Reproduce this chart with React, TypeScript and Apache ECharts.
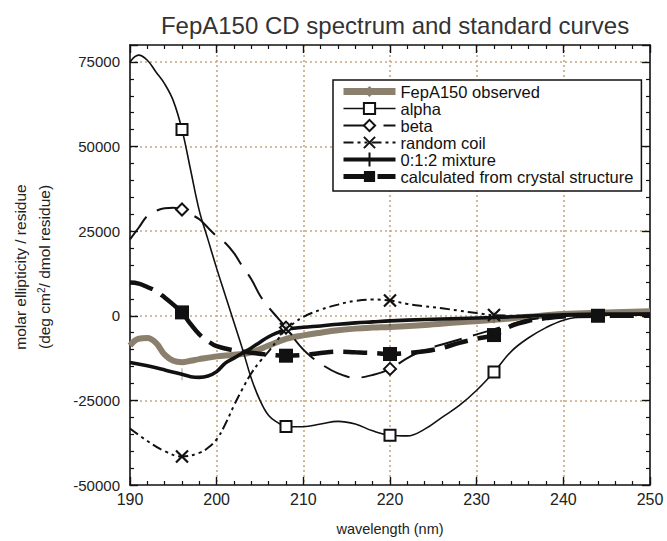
import React, { useEffect, useRef } from 'react';
import * as echarts from 'echarts';

const titleText = 'FepA150 CD spectrum and standard curves';
const xName = 'wavelength (nm)';
const yName1 = 'molar ellipticity / residue';
const yName2 = '(deg cm{s|2}/ dmol residue)';

const names = [
  'FepA150 observed',
  'alpha',
  'beta',
  'random coil',
  '0:1:2 mixture',
  'calculated from crystal structure',
];

const observed = [
  [190, -8800], [191, -6800], [192, -6600], [193, -8000], [194, -11500], [195, -13300],
  [196, -13700], [197, -13300], [198, -12800], [200, -12000], [202, -11500], [204, -10800],
  [206, -8800], [208, -6800], [210, -5800], [212, -5000], [214, -4300], [216, -3800],
  [218, -3500], [220, -3300], [224, -2700], [228, -1900], [232, -1200], [236, -300],
  [240, 500], [244, 900], [250, 1300],
];

const alpha = [
  [190, 75000], [191, 77000], [192, 75500], [193, 72000], [194, 68500], [195, 63500],
  [196, 55000], [197, 43000], [198, 31000], [199, 22500], [200, 14000], [201, 6000],
  [202, -2000], [203, -10000], [204, -18500], [205, -25000], [206, -29500], [207, -31500],
  [208, -32700], [210, -32800], [212, -32000], [214, -31200], [216, -32000], [218, -34000],
  [220, -35300], [222, -35500], [224, -33500], [226, -30000], [228, -26500], [230, -22000],
  [232, -16600], [234, -10500], [236, -6500], [238, -3500], [240, -1300], [242, -300],
  [244, 200], [247, 500], [250, 700],
];

const beta = [
  [190, 22600], [191, 26000], [192, 29500], [193, 31000], [194, 31800], [195, 31900],
  [196, 31400], [197, 30000], [198, 28500], [199, 26000], [200, 23500], [201, 21500],
  [202, 18500], [203, 14500], [204, 10800], [205, 6000], [206, 2500], [207, -500],
  [208, -3500], [209, -7000], [210, -10000], [211, -12300], [212, -14200], [214, -17000],
  [216, -18300], [218, -17500], [220, -15700], [222, -12500], [224, -10000], [226, -8500],
  [228, -7000], [230, -5500], [232, -4000], [234, -2500], [236, -1200], [238, -500],
  [240, 0], [245, 300], [250, 500],
];

const randomCoil = [
  [190, -33300], [192, -37000], [194, -40000], [196, -41600], [198, -40500], [199, -39000],
  [200, -36500], [201, -32000], [202, -26500], [203, -21500], [204, -17000], [205, -13500],
  [206, -10500], [207, -7200], [208, -3900], [209, -2000], [210, -300], [212, 1800],
  [214, 3300], [216, 4400], [218, 4800], [220, 4500], [222, 3500], [224, 2800],
  [226, 2200], [228, 1500], [230, 800], [232, 200], [236, 0], [240, 0], [245, 300], [250, 500],
];

const mixture = [
  [190, -13800], [192, -14800], [194, -16000], [196, -17300], [197, -18000], [198, -18200],
  [199, -17800], [200, -16500], [201, -14000], [202, -12500], [203, -11000], [204, -9500],
  [205, -7800], [206, -6200], [207, -5000], [208, -4000], [210, -3400], [212, -3000],
  [214, -2500], [216, -2100], [218, -1800], [220, -1500], [224, -1100], [228, -800],
  [232, -500], [236, -100], [240, 300], [245, 500], [250, 500],
];

const calculated = [
  [190, 9800], [191, 9500], [192, 8500], [193, 7300], [194, 5400], [195, 3300],
  [196, 1000], [197, -2500], [198, -5500], [199, -7500], [200, -9000], [202, -10200],
  [204, -10900], [206, -11500], [208, -11800], [210, -11600], [212, -11000], [214, -10600],
  [216, -10800], [218, -11000], [220, -11300], [222, -11000], [224, -10500], [226, -9500],
  [228, -8000], [230, -6800], [232, -5700], [234, -3000], [236, -1500], [238, -700],
  [240, -200], [244, 0], [247, 0], [250, 0],
];

const alphaMarks = [196, 208, 220, 232];
const betaMarks = [196, 208, 220];
const coilMarks = [196, 208, 220, 232];
const mixtureMarks = [196, 208, 220, 232];
const calcMarks = [196, 208, 220, 232, 244];

const FONT = 'Liberation Sans, Arial, Helvetica, sans-serif';

function toData(points: number[][], marks: number[]) {
  return points.map(([x, y]) =>
    marks.includes(x) ? [x, y] : { value: [x, y], symbol: 'none' }
  );
}

export default function App() {
  const ref = useRef<HTMLDivElement>(null);
  useEffect(() => {
    document.body.style.margin = '0';
    if (!ref.current) return;
    const chart = echarts.init(ref.current, undefined, { renderer: 'svg' });
    const gridLine = { show: true, showMinLine: false, showMaxLine: false, lineStyle: { color: '#c9a77f', type: [2, 3], width: 1.6 } };
    const axisLine = { show: true, onZero: false, lineStyle: { color: '#111', width: 1.6 } };
    const tick = { show: true, inside: true, length: 8, lineStyle: { color: '#111', width: 1.4 } };
    const minor = { show: true, splitNumber: 5, length: 4, lineStyle: { color: '#111', width: 1.2 } };
    const nameStyle = { fontSize: 15.5, fill: '#222', fontFamily: FONT, align: 'center', verticalAlign: 'middle', textAlign: 'center', textVerticalAlign: 'middle' };
    chart.setOption({
      animation: false,
      backgroundColor: '#fff',
      textStyle: { fontFamily: FONT },
      title: {
        text: titleText,
        left: 390,
        textAlign: 'center',
        top: 8,
        textStyle: { fontSize: 24, fontWeight: 'normal', color: '#333', fontFamily: FONT },
      },
      grid: { left: 130, top: 45, width: 520, height: 442, containLabel: false },
      legend: {
        orient: 'vertical',
        left: 333,
        top: 80,
        itemWidth: 52,
        itemHeight: 14,
        itemGap: 0,
        padding: [3, 8, 6, 7],
        borderColor: '#111',
        borderWidth: 1.5,
        backgroundColor: '#fff',
        textStyle: { fontSize: 16.5, color: '#111', fontFamily: FONT },
        data: [
          { name: names[0], lineStyle: { width: 7 } },
          { name: names[1], lineStyle: { width: 1.6 } },
          { name: names[2], lineStyle: { width: 2 } },
          { name: names[3], lineStyle: { width: 2 } },
          { name: names[4], icon: 'path://M0 5H52V9H0Z M25 0H27V14H25Z' },
          { name: names[5], lineStyle: { width: 5 } },
        ],
      },
      xAxis: [
        {
          type: 'value', min: 190, max: 250, interval: 10, position: 'bottom',
          axisLine, axisTick: tick, minorTick: minor,
          axisLabel: { fontSize: 16, color: '#222', margin: 6, fontFamily: FONT },
          splitLine: gridLine,
          name: xName, nameLocation: 'middle', nameGap: 36,
          nameTextStyle: { fontSize: 14.5, color: '#222', fontFamily: FONT },
        },
        {
          type: 'value', min: 190, max: 250, interval: 10, position: 'top',
          axisLine, axisTick: tick, minorTick: minor,
          axisLabel: { show: false }, splitLine: { show: false },
        },
      ],
      yAxis: [
        {
          type: 'value', min: -50000, max: 80000, interval: 25000, position: 'left',
          axisLine, axisTick: tick, minorTick: minor,
          axisLabel: {
            fontSize: 15, color: '#222', margin: 10, fontFamily: FONT,
            formatter: (v: number) => (v > 75000 ? '' : String(v)),
          },
          splitLine: gridLine,
        },
        {
          type: 'value', min: -50000, max: 80000, interval: 25000, position: 'right',
          axisLine, axisTick: tick, minorTick: minor,
          axisLabel: { show: false }, splitLine: { show: false },
        },
      ],
      graphic: [
        {
          type: 'text', x: 20, y: 267, rotation: Math.PI / 2,
          style: { text: yName1, ...nameStyle },
        },
        {
          type: 'text', x: 44, y: 267, rotation: Math.PI / 2,
          style: {
            text: yName2, ...nameStyle,
            rich: { s: { fontSize: 10, verticalAlign: 'top', fill: '#222', fontFamily: FONT } },
          },
        },
      ],
      series: [
        {
          name: names[0], type: 'line', smooth: 0.4, data: observed,
          symbol: 'diamond', showSymbol: false, symbolSize: 10,
          lineStyle: { color: '#8b806d', width: 6 }, itemStyle: { color: '#8b806d' },
        },
        {
          name: names[1], type: 'line', smooth: 0.4, data: toData(alpha, alphaMarks),
          symbol: 'emptyRect', symbolSize: 11,
          lineStyle: { color: '#111', width: 1.6 }, itemStyle: { color: '#111', borderWidth: 1.6 },
        },
        {
          name: names[2], type: 'line', smooth: 0.4, data: toData(beta, betaMarks),
          symbol: 'emptyDiamond', symbolSize: 12,
          lineStyle: { color: '#111', width: 2, type: [28, 12] }, itemStyle: { color: '#111', borderWidth: 1.6 },
        },
        {
          name: names[3], type: 'line', smooth: 0.4, data: toData(randomCoil, coilMarks),
          symbol: 'path://M0 0L10 10M10 0L0 10', symbolSize: 12,
          lineStyle: { color: '#111', width: 2, type: [10, 4, 3, 4, 3, 4] },
          itemStyle: { color: '#111', borderColor: '#111', borderWidth: 2.2 },
        },
        {
          name: names[4], type: 'line', smooth: 0.4, data: toData(mixture, mixtureMarks),
          symbol: 'path://M0 0H2V12H0Z', symbolSize: [2.5, 12], symbolKeepAspect: true,
          lineStyle: { color: '#111', width: 3.6 }, itemStyle: { color: '#111' },
        },
        {
          name: names[5], type: 'line', smooth: 0.4, data: toData(calculated, calcMarks),
          symbol: 'rect', symbolSize: 14,
          lineStyle: { color: '#111', width: 4.5, type: [24, 10] }, itemStyle: { color: '#111' },
        },
      ],
    });
    return () => chart.dispose();
  }, []);
  return <div ref={ref} style={{ width: 667, height: 541 }} />;
}
